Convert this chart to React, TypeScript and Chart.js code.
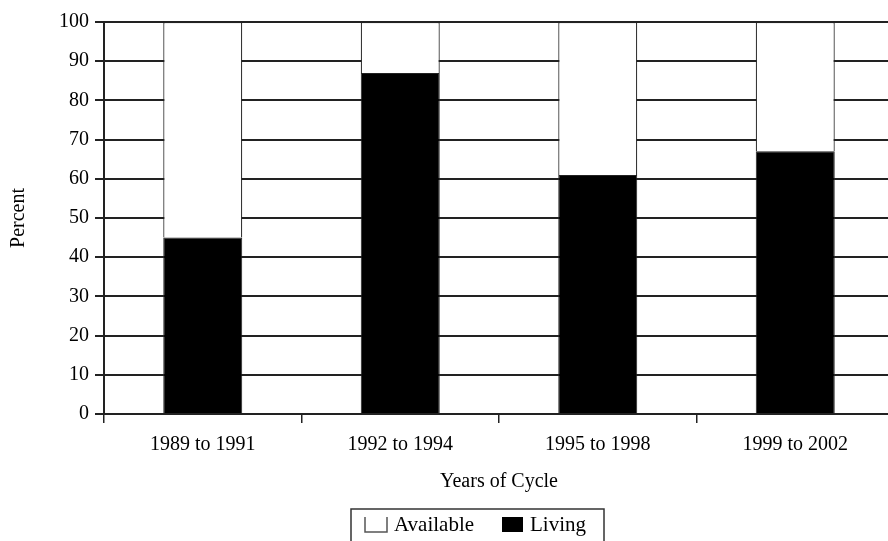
import { useEffect, useRef } from 'react';
import { Chart, registerables } from 'chart.js';

Chart.register(...registerables);

const categories = ['1989 to 1991', '1992 to 1994', '1995 to 1998', '1999 to 2002'];
const livingValues = [45, 87, 61, 67];
const availableValues = [55, 13, 39, 33];
const seriesLabels = ['Available', 'Living'];
const yAxisTitle = 'Percent';
const xAxisTitle = 'Years of Cycle';

const FONT = '"Liberation Serif", "Times New Roman", serif';

const boxLegend = {
  id: 'boxLegend',
  afterDraw(chart: any) {
    const ctx = chart.ctx as CanvasRenderingContext2D;
    ctx.save();
    ctx.strokeStyle = '#333';
    ctx.lineWidth = 1.5;
    ctx.strokeRect(351, 509, 253, 40);
    // Available icon (open box)
    ctx.beginPath();
    ctx.moveTo(365, 517);
    ctx.lineTo(365, 532);
    ctx.lineTo(387, 532);
    ctx.lineTo(387, 517);
    ctx.strokeStyle = '#555';
    ctx.lineWidth = 1.5;
    ctx.stroke();
    // Living icon
    ctx.fillStyle = '#000';
    ctx.fillRect(502, 517, 21, 15);
    ctx.font = '21px ' + FONT;
    ctx.textBaseline = 'alphabetic';
    ctx.textAlign = 'left';
    ctx.fillStyle = '#000';
    ctx.fillText(seriesLabels[0], 394, 531);
    ctx.fillText(seriesLabels[1], 530, 531);
    ctx.restore();
  },
};

export default function App() {
  const ref = useRef<HTMLCanvasElement | null>(null);

  useEffect(() => {
    document.body.style.margin = '0';
    const canvas = ref.current;
    if (!canvas) return;
    const chart = new Chart(canvas, {
      type: 'bar',
      data: {
        labels: categories,
        datasets: [
          {
            label: seriesLabels[1],
            data: livingValues,
            backgroundColor: '#000',
            borderColor: '#222',
            borderWidth: 1,
            categoryPercentage: 1,
            barPercentage: 0.4,
          },
          {
            label: seriesLabels[0],
            data: availableValues,
            backgroundColor: '#fff',
            borderColor: '#222',
            borderWidth: 1.2,
            categoryPercentage: 1,
            barPercentage: 0.4,
          },
        ],
      },
      options: {
        animation: false,
        responsive: false,
        devicePixelRatio: 1,
        layout: { padding: { top: 22, left: 0, right: 0, bottom: 47 } },
        plugins: {
          legend: { display: false },
          tooltip: { enabled: false },
        },
        scales: {
          x: {
            stacked: true,
            afterFit(scale: any) {
              scale.height = 80;
            },
            grid: {
              display: true,
              drawOnChartArea: false,
              drawTicks: true,
              tickLength: 9,
              color: '#222',
              lineWidth: 1.5,
              offset: true,
            },
            border: { display: true, color: '#222', width: 2 },
            ticks: {
              color: '#000',
              font: { family: FONT, size: 20 },
              padding: 10,
              maxRotation: 0,
            },
            title: {
              display: true,
              text: xAxisTitle,
              color: '#000',
              font: { family: FONT, size: 20 },
              padding: { top: 0, bottom: 0 },
            },
          },
          y: {
            stacked: true,
            min: 0,
            max: 100,
            afterFit(scale: any) {
              scale.width = 104;
            },
            grid: {
              color: '#222',
              lineWidth: 2,
              drawTicks: true,
              tickLength: 9,
            },
            border: { display: true, color: '#222', width: 2 },
            ticks: {
              stepSize: 10,
              color: '#000',
              font: { family: FONT, size: 20 },
              padding: 6,
            },
            title: {
              display: true,
              text: yAxisTitle,
              color: '#000',
              font: { family: FONT, size: 20 },
              padding: { top: 7, bottom: 0 },
            },
          },
        },
      },
      plugins: [boxLegend],
    });
    return () => chart.destroy();
  }, []);

  return (
    <div style={{ width: 888, height: 541, overflow: 'hidden', background: '#fff' }}>
      <canvas ref={ref} width={894} height={541} style={{ display: 'block' }} />
    </div>
  );
}
